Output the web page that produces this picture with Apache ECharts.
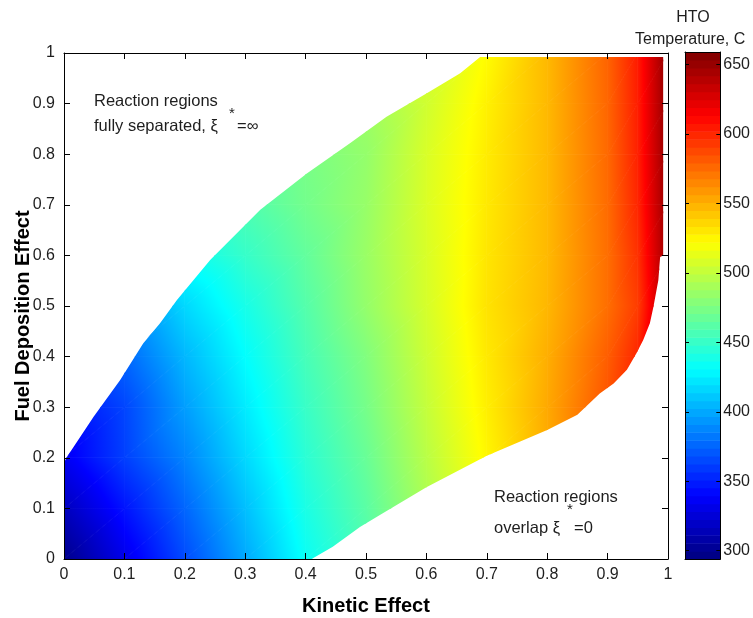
<!DOCTYPE html>
<html>
<head>
<meta charset="utf-8">
<script src="https://cdn.jsdelivr.net/npm/echarts@6/dist/echarts.min.js"></script>
<style>
  html, body { margin: 0; padding: 0; background: #fff; }
  #chart { width: 753px; height: 618px; }
</style>
</head>
<body>
<div id="chart"></div>
<script>
// HTO temperature over (kinetic effect, fuel deposition effect).
// Temperatures (C) on a coarse grid; rows are y = 0, 0.1, ... 1, columns follow gridX.
// Points just outside the coloured region are estimates; the region clip hides them.
const gridX = [0, 0.1, 0.2, 0.3, 0.4, 0.5, 0.6, 0.7, 0.8, 0.9, 0.95, 1.0];
const gridY = [0, 0.1, 0.2, 0.3, 0.4, 0.5, 0.6, 0.7, 0.8, 0.9, 1.0];
const tempY00 = [298, 332, 366, 400, 434, 458, 487, 517, 545, 577, 597, 628];
const tempY01 = [316, 346, 376, 408, 440, 463, 492, 522, 549, 581, 601, 633];
const tempY02 = [335, 362, 387, 417, 446, 468, 497, 525, 552, 584, 604, 638];
const tempY03 = [344, 364, 396, 424, 451, 473, 501, 528, 553, 584, 606, 642];
const tempY04 = [352, 376, 405, 431, 456, 477, 504, 530, 551, 580, 600, 645];
const tempY05 = [365, 390, 417, 439, 461, 484, 507, 532, 548, 574, 592, 648];
const tempY06 = [380, 410, 434, 450, 466, 486, 508, 531, 547, 574, 596, 650];
const tempY07 = [395, 420, 442, 459, 472, 485, 509, 530, 547, 575, 600, 652];
const tempY08 = [410, 430, 449, 464, 474, 484, 508, 529, 547, 576, 602, 653];
const tempY09 = [420, 438, 454, 468, 478, 487, 505, 527, 547, 577, 603, 654];
const tempY10 = [428, 444, 458, 471, 481, 491, 508, 523, 547, 578, 604, 655];

// edge of the feasible region: upper-left curve and lower-right curve
const upperEdgeX = [0, 0.004, 0.049, 0.093, 0.131, 0.159, 0.187, 0.242, 0.325, 0.402, 0.474, 0.534, 0.600, 0.656, 0.689];
const upperEdgeY = [0.19, 0.2, 0.281, 0.354, 0.426, 0.466, 0.512, 0.591, 0.690, 0.762, 0.822, 0.874, 0.920, 0.960, 0.992];
const lowerEdgeX = [0.41, 0.445, 0.49, 0.523, 0.6, 0.7, 0.8, 0.85, 0.887, 0.910, 0.932, 0.948, 0.959, 0.970, 0.976, 0.984, 0.987, 0.992, 0.992];
const lowerEdgeY = [0, 0.024, 0.063, 0.087, 0.142, 0.204, 0.255, 0.285, 0.327, 0.347, 0.374, 0.407, 0.433, 0.466, 0.499, 0.551, 0.597, 0.60, 0.992];

const axisTicks = [0, 0.1, 0.2, 0.3, 0.4, 0.5, 0.6, 0.7, 0.8, 0.9, 1];
const cbarTicks = [300, 350, 400, 450, 500, 550, 600, 650];
const cbarMin = 294;
const cbarMax = 659;
const cbarLevels = 64;

const FONT = '"Liberation Sans", Arial, Helvetica, sans-serif';
const INK = '#1e1e1e';

const tempTable = [tempY00, tempY01, tempY02, tempY03, tempY04, tempY05,
                   tempY06, tempY07, tempY08, tempY09, tempY10];
const regionPts = [[0, 0]]
  .concat(lowerEdgeX.map((x, k) => [x, lowerEdgeY[k]]))
  .concat(upperEdgeX.map((x, k) => [x, upperEdgeY[k]]).reverse());

function clamp01(v) { return Math.max(0, Math.min(1, v)); }
function jet(t) {
  t = clamp01(t);
  const c = (v) => Math.round(255 * clamp01(v));
  return 'rgb(' + c(1.5 - Math.abs(4 * t - 3)) + ',' + c(1.5 - Math.abs(4 * t - 2)) + ',' +
    c(1.5 - Math.abs(4 * t - 1)) + ')';
}
function tempColor(T) { return jet((T - cbarMin) / (cbarMax - cbarMin)); }

// linear shading over a triangle: gradient runs along the temperature gradient,
// with extra stops where jet changes slope
function triFill(p, v) {
  const dx1 = p[1][0] - p[0][0], dy1 = p[1][1] - p[0][1];
  const dx2 = p[2][0] - p[0][0], dy2 = p[2][1] - p[0][1];
  const dv1 = v[1] - v[0], dv2 = v[2] - v[0];
  const det = dx1 * dy2 - dx2 * dy1;
  const tMin = Math.min(v[0], v[1], v[2]), tMax = Math.max(v[0], v[1], v[2]);
  if (Math.abs(det) < 1e-9 || tMax - tMin < 0.05) return tempColor((v[0] + v[1] + v[2]) / 3);
  const a = (dv1 * dy2 - dv2 * dy1) / det;
  const b = (dx1 * dv2 - dx2 * dv1) / det;
  const g2 = a * a + b * b;
  const s = p[v.indexOf(tMin)];
  const k = (tMax - tMin) / g2;
  const stops = [{ offset: 0, color: tempColor(tMin) }];
  [1 / 8, 3 / 8, 5 / 8, 7 / 8].forEach((f) => {
    const T = cbarMin + f * (cbarMax - cbarMin);
    if (T > tMin && T < tMax) stops.push({ offset: (T - tMin) / (tMax - tMin), color: tempColor(T) });
  });
  stops.push({ offset: 1, color: tempColor(tMax) });
  return { type: 'linear', x: s[0], y: s[1], x2: s[0] + a * k, y2: s[1] + b * k, colorStops: stops, global: true };
}
function tri(p, v) {
  const fill = triFill(p, v);
  return { type: 'polygon', shape: { points: p }, style: { fill: fill, stroke: fill, lineWidth: 0.8 } };
}

const cells = [];
for (let i = 0; i < gridY.length - 1; i++) {
  for (let j = 0; j < gridX.length - 1; j++) cells.push([gridX[j], gridY[i], j, i]);
}

function renderCell(params, api) {
  const j = api.value(2), i = api.value(3);
  const x0 = gridX[j], x1 = gridX[j + 1], y0 = gridY[i], y1 = gridY[i + 1];
  const p00 = api.coord([x0, y0]), p10 = api.coord([x1, y0]);
  const p01 = api.coord([x0, y1]), p11 = api.coord([x1, y1]);
  const t = tempTable;
  return {
    type: 'group',
    clipPath: { type: 'polygon', shape: { points: regionPts.map((q) => api.coord(q)) } },
    children: [
      tri([p00, p10, p11], [t[i][j], t[i][j + 1], t[i + 1][j + 1]]),
      tri([p00, p11, p01], [t[i][j], t[i + 1][j + 1], t[i + 1][j]])
    ]
  };
}

const levelData = [];
for (let k = 0; k < cbarLevels; k++) levelData.push([0, cbarMin, k]);
function renderLevel(params, api) {
  const k = api.value(2);
  const step = (cbarMax - cbarMin) / cbarLevels;
  const lo = api.coord([0, cbarMin + k * step]);
  const hi = api.coord([1, cbarMin + (k + 1) * step]);
  return {
    type: 'rect',
    shape: { x: lo[0], y: hi[1], width: hi[0] - lo[0], height: lo[1] - hi[1] + 0.6 },
    style: { fill: jet((k + 0.5) / cbarLevels) }
  };
}

const lineStyle = { color: '#000', width: 1 };
const tickLabel = { color: INK, fontSize: 16, fontFamily: FONT };
function plotAxis(extra) {
  return Object.assign({
    type: 'value', min: 0, max: 1, interval: 0.1, z: 5,
    axisLine: { show: true, onZero: false, lineStyle: lineStyle },
    axisTick: { show: true, inside: true, length: 6, lineStyle: lineStyle },
    axisLabel: Object.assign({ margin: 8, formatter: (v) => String(+v.toFixed(1)) }, tickLabel),
    splitLine: { show: false }
  }, extra);
}
function barAxis(extra) {
  return Object.assign({
    type: 'value', gridIndex: 1, min: cbarMin, max: cbarMax, z: 5,
    axisLine: { show: true, onZero: false, lineStyle: lineStyle },
    axisTick: { show: true, inside: true, length: 4, customValues: cbarTicks, lineStyle: lineStyle },
    axisLabel: Object.assign({ show: false, margin: 3, customValues: cbarTicks }, tickLabel),
    splitLine: { show: false }
  }, extra);
}
function note(text, x, y, size) {
  return {
    type: 'text', x: x, y: y, silent: true,
    style: { text: text, font: (size || 16.5) + 'px ' + FONT, fill: INK, align: 'left', verticalAlign: 'middle' }
  };
}

const chart = echarts.init(document.getElementById('chart'), null, { renderer: 'canvas' });
chart.setOption({
  animation: false,
  backgroundColor: '#fff',
  grid: [
    { left: 64, top: 53, width: 604, height: 506 },
    { left: 685, top: 52, width: 38, height: 507 }
  ],
  xAxis: [
    plotAxis({ gridIndex: 0, position: 'bottom' }),
    plotAxis({ gridIndex: 0, position: 'top', axisLabel: { show: false } }),
    { type: 'value', gridIndex: 1, min: 0, max: 1, position: 'bottom', z: 5,
      axisLine: { show: true, onZero: false, lineStyle: lineStyle },
      axisTick: { show: false }, axisLabel: { show: false }, splitLine: { show: false } },
    { type: 'value', gridIndex: 1, min: 0, max: 1, position: 'top', z: 5,
      axisLine: { show: true, onZero: false, lineStyle: lineStyle },
      axisTick: { show: false }, axisLabel: { show: false }, splitLine: { show: false } }
  ],
  yAxis: [
    plotAxis({ gridIndex: 0, position: 'left', axisLabel: Object.assign({ margin: 9, formatter: (v) => String(+v.toFixed(1)) }, tickLabel) }),
    plotAxis({ gridIndex: 0, position: 'right', axisLabel: { show: false } }),
    barAxis({ position: 'left' }),
    barAxis({ position: 'right',
      axisLabel: Object.assign({ show: true, margin: 3, customValues: cbarTicks }, tickLabel) })
  ],
  series: [
    {
      type: 'custom', name: 'HTO temperature', coordinateSystem: 'cartesian2d',
      xAxisIndex: 0, yAxisIndex: 0, silent: true, clip: true,
      encode: { x: 0, y: 1 },
      renderItem: renderCell, data: cells
    },
    {
      type: 'custom', name: 'colour scale', coordinateSystem: 'cartesian2d',
      xAxisIndex: 2, yAxisIndex: 2, silent: true,
      encode: { x: 0, y: 1 },
      renderItem: renderLevel, data: levelData
    }
  ],
  graphic: [
    note('Reaction regions', 94, 101),
    note('fully separated, \u03be', 94, 126),
    note('*', 229, 114, 15),
    note('=\u221e', 237, 126),
    note('Reaction regions', 494, 497),
    note('overlap \u03be', 494, 528),
    note('*', 567, 510, 15),
    note('=0', 574, 528),
    { type: 'text', x: 693, y: 18, silent: true,
      style: { text: 'HTO', font: '16px ' + FONT, fill: INK, align: 'center', verticalAlign: 'middle' } },
    note('Temperature, C', 635, 40, 16),
    { type: 'text', x: 366, y: 606, silent: true,
      style: { text: 'Kinetic Effect', font: 'bold 20px ' + FONT, fill: '#000', align: 'center', verticalAlign: 'middle' } },
    { type: 'text', x: 23, y: 316, rotation: Math.PI / 2, silent: true,
      style: { text: 'Fuel Deposition Effect', font: 'bold 20px ' + FONT, fill: '#000', align: 'center', verticalAlign: 'middle' } }
  ]
});
</script>
</body>
</html>
